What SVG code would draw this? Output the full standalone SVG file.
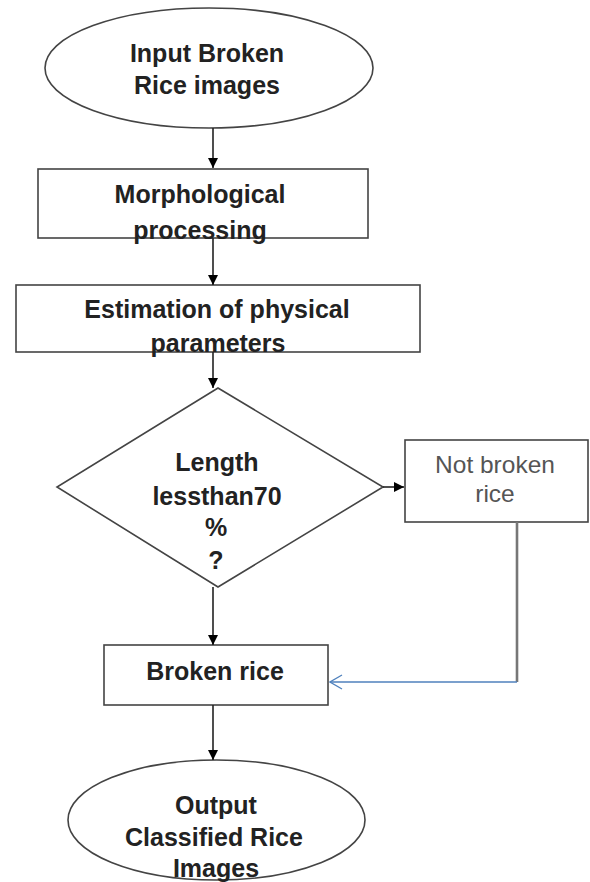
<svg xmlns="http://www.w3.org/2000/svg" width="590" height="882" viewBox="0 0 590 882">
<defs>
<marker id="ah" markerWidth="10" markerHeight="10" refX="10" refY="5" orient="auto" markerUnits="userSpaceOnUse">
<path d="M0,0 L10,5 L0,10 Z" fill="#000"/>
</marker>
<marker id="open" markerWidth="14" markerHeight="16" refX="13" refY="8" orient="auto" markerUnits="userSpaceOnUse">
<path d="M1,1 L13,8 L1,15" fill="none" stroke="#4f81bd" stroke-width="1.3"/>
</marker>
</defs>
<style>
.shape{fill:#fff;stroke:#444;stroke-width:1.6}
.t{font-family:"Liberation Sans",Arial,sans-serif;font-weight:bold;font-size:25px;fill:#222;text-anchor:middle}
.g{font-family:"Liberation Sans",Arial,sans-serif;font-size:24.5px;fill:#555;text-anchor:middle}
.c{fill:none;stroke:#222;stroke-width:1.6}
</style>
<rect width="590" height="882" fill="#fff"/>
<g id="input">
<ellipse class="shape" cx="209" cy="68" rx="164" ry="60"/>
<text class="t" x="207" y="62">Input Broken</text>
<text class="t" x="207" y="94">Rice images</text>
</g>
<g id="morph">
<rect class="shape" x="38" y="169" width="330" height="69"/>
<text class="t" x="200" y="203">Morphological</text>
<text class="t" x="200" y="239">processing</text>
</g>
<g id="estimation">
<rect class="shape" x="16" y="285" width="404" height="67"/>
<text class="t" x="217" y="318">Estimation of physical</text>
<text class="t" x="218" y="352">parameters</text>
</g>
<g id="decision">
<polygon class="shape" points="218,388 383,487 218,587 57,487"/>
<text class="t" x="217" y="471">Length</text>
<text class="t" x="217" y="505">lessthan70</text>
<text class="t" x="216" y="536">%</text>
<text class="t" x="216" y="569">?</text>
</g>
<g id="notbroken">
<rect class="shape" x="405" y="440" width="183" height="82"/>
<text class="g" x="495" y="473">Not broken</text>
<text class="g" x="495" y="502">rice</text>
</g>
<g id="broken">
<rect class="shape" x="104" y="645" width="224" height="60"/>
<text class="t" x="215" y="680">Broken rice</text>
</g>
<g id="output">
<ellipse class="shape" cx="216.5" cy="820" rx="148.5" ry="60"/>
<text class="t" x="216" y="814">Output</text>
<text class="t" x="214" y="846">Classified Rice</text>
<text class="t" x="216" y="877">Images</text>
</g>
<g id="connectors">
<line class="c" x1="213" y1="128" x2="213" y2="168" marker-end="url(#ah)"/>
<line class="c" x1="213" y1="238" x2="213" y2="285" marker-end="url(#ah)"/>
<line class="c" x1="213" y1="352" x2="213" y2="388" marker-end="url(#ah)"/>
<line class="c" x1="383" y1="487" x2="404" y2="487" marker-end="url(#ah)"/>
<line class="c" x1="213" y1="587" x2="213" y2="645" marker-end="url(#ah)"/>
<line class="c" x1="213" y1="705" x2="213" y2="760" marker-end="url(#ah)"/>
<line x1="517" y1="522" x2="517" y2="682" stroke="#777" stroke-width="2.6"/>
<line x1="517" y1="682" x2="330" y2="682" stroke="#4f81bd" stroke-width="1.4" marker-end="url(#open)"/>
</g>
</svg>
